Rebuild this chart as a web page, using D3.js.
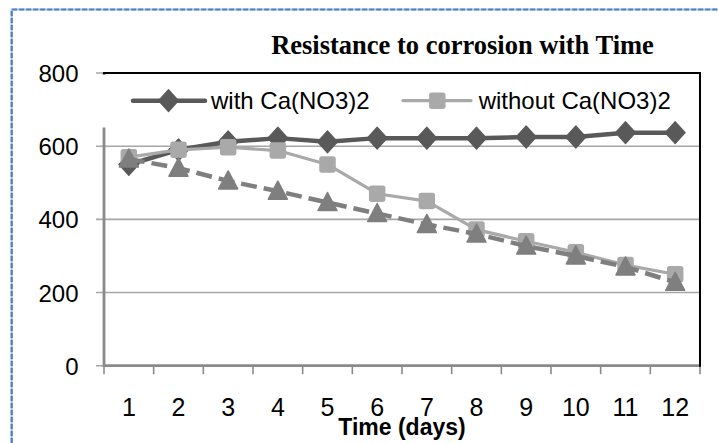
<!DOCTYPE html>
<html><head><meta charset="utf-8">
<script src="https://cdn.jsdelivr.net/npm/d3@7"></script>
<style>body{margin:0;background:#fff}svg{display:block}</style>
</head><body>
<svg id="chart" width="718" height="443"></svg>
<script>
// ---- data ----
const days = ["1","2","3","4","5","6","7","8","9","10","11","12"];
const withCa = [550, 590, 612, 622, 612, 622, 622, 622, 625, 625, 637, 637];
const withoutCa = [570, 590, 597, 588, 550, 470, 450, 372, 340, 310, 275, 250];
const thirdSeries = [565, 540, 505, 477, 446, 416, 386, 360, 327, 300, 270, 228];
const yTicks = [0, 200, 400, 600, 800];
const legendNames = ["with Ca(NO3)2", "without Ca(NO3)2"];
const titleText = "Resistance to corrosion with Time";
const xTitleText = "Time (days)";

// ---- layout ----
const W = 718, H = 443;
const plotL = 104, plotR = 700, plotT = 73, plotB = 365.7;
const sans = "'Liberation Sans', Arial, sans-serif";
const serif = "'Liberation Serif', 'Times New Roman', serif";
const cDark = "#595959", cLight = "#a9a9a9", cMid = "#7f7f7f";
const axisGray = "#8a8a8a", gridGray = "#a6a6a6";

const svg = d3.select("#chart");
const x = d3.scaleBand().domain(days).range([plotL, plotR]);
const y = d3.scaleLinear().domain([0, 800]).range([plotB, plotT]);

// outer dotted blue frame
svg.append("path").attr("d", `M11.7,${H} V9.5 H${W}`)
  .attr("fill", "none").attr("stroke", "#a9c2e6").attr("stroke-width", 2.2);
svg.append("path").attr("d", `M11.7,${H} V9.5 H${W}`)
  .attr("fill", "none").attr("stroke", "#4f81bd").attr("stroke-width", 2.2)
  .attr("stroke-dasharray", "5,2");

// gridlines (with outside ticks)
svg.append("g").selectAll("line").data(yTicks).join("line")
  .attr("x1", plotL - 8).attr("x2", plotR)
  .attr("y1", d => y(d)).attr("y2", d => y(d))
  .attr("stroke", gridGray).attr("stroke-width", 1.6);

// y axis line
svg.append("line").attr("x1", plotL).attr("x2", plotL)
  .attr("y1", plotT).attr("y2", plotB + 1)
  .attr("stroke", axisGray).attr("stroke-width", 2.8);

// x axis with ticks at band edges
const xAxis = d3.axisBottom(x).tickSize(0).tickPadding(0).tickFormat(d => d);
const gx = svg.append("g").attr("transform", `translate(0,${plotB})`).call(xAxis);
gx.select(".domain").remove();
gx.selectAll(".tick line").remove();
gx.selectAll(".tick text").attr("y", 50.8).attr("dy", null)
  .attr("font-family", sans).attr("font-size", 25).attr("fill", "#000");
const edges = days.map(d => x(d)).concat([x(days[days.length - 1]) + x.bandwidth()]);
svg.append("g").selectAll("line").data(edges).join("line")
  .attr("x1", d => d).attr("x2", d => d)
  .attr("y1", plotB).attr("y2", plotB + 8.5)
  .attr("stroke", axisGray).attr("stroke-width", 1.6);
svg.append("line").attr("x1", plotL - 1).attr("x2", plotR)
  .attr("y1", plotB).attr("y2", plotB)
  .attr("stroke", axisGray).attr("stroke-width", 2.8);

// y tick labels via axis
const yAxis = d3.axisLeft(y).tickValues(yTicks).tickSize(0).tickPadding(0);
const gy = svg.append("g").attr("transform", `translate(78.5,0)`).call(yAxis);
gy.select(".domain").remove();
gy.selectAll(".tick text").attr("x", 0).attr("dy", "0.36em")
  .attr("font-family", sans).attr("font-size", 24).attr("fill", "#000");

// legend background (hides top of y axis)
svg.append("rect").attr("x", 102).attr("y", 75).attr("width", plotR - 103).attr("height", 52.5)
  .attr("fill", "#fff");

// plot area border top & right (black)
svg.append("path").attr("d", `M${plotL - 1},${plotT} H${plotR} V${plotB + 1}`)
  .attr("fill", "none").attr("stroke", "#000").attr("stroke-width", 2);

// marker shapes
const diamondPath = "M0,-11 L10,0 L0,11 L-10,0 Z";
const trianglePath = "M0,-10 L9.5,8 L-9.5,8 Z";
const cx = d => x(d) + x.bandwidth() / 2;
const line = d3.line();

function series(vals, color, width, dash, marker) {
  const pts = vals.map((v, i) => [cx(days[i]), y(v)]);
  svg.append("path").attr("d", line(pts)).attr("fill", "none")
    .attr("stroke", color).attr("stroke-width", width)
    .attr("stroke-linejoin", "round")
    .attr("stroke-dasharray", dash || null);
  const g = svg.append("g");
  pts.forEach(p => marker(g, p[0], p[1]));
}
const drawDiamond = (g, px, py) => g.append("path").attr("d", diamondPath)
  .attr("transform", `translate(${px},${py})`).attr("fill", cDark)
  .attr("stroke", cDark).attr("stroke-width", 1.2).attr("stroke-linejoin", "round");
const drawSquare = (g, px, py) => g.append("rect")
  .attr("x", px - 7.5).attr("y", py - 7.5).attr("width", 15).attr("height", 15)
  .attr("rx", 2).attr("fill", cLight).attr("stroke", cLight).attr("stroke-width", 1.5);
const drawTriangle = (g, px, py) => g.append("path").attr("d", trianglePath)
  .attr("transform", `translate(${px},${py})`).attr("fill", cMid)
  .attr("stroke", cMid).attr("stroke-width", 1.5).attr("stroke-linejoin", "round");

series(withCa, cDark, 4.5, null, drawDiamond);
series(withoutCa, cLight, 3.2, null, drawSquare);
series(thirdSeries, cMid, 4.5, "16,7", drawTriangle);

// legend
const lg = svg.append("g");
lg.append("line").attr("x1", 133).attr("x2", 205).attr("y1", 100.7).attr("y2", 100.7)
  .attr("stroke", cDark).attr("stroke-width", 4.5).attr("stroke-linecap", "round");
drawDiamond(lg, 168.5, 100.7);
lg.append("text").attr("x", 211).attr("y", 108.5).text(legendNames[0])
  .attr("font-family", sans).attr("font-size", 24).attr("fill", "#000");
lg.append("line").attr("x1", 403).attr("x2", 471).attr("y1", 100.7).attr("y2", 100.7)
  .attr("stroke", cLight).attr("stroke-width", 3.2).attr("stroke-linecap", "round");
drawSquare(lg, 437.3, 100.7);
lg.append("text").attr("x", 478.7).attr("y", 108.5).text(legendNames[1])
  .attr("font-family", sans).attr("font-size", 24).attr("fill", "#000");

// title
svg.append("text").attr("x", 462.5).attr("y", 54).attr("text-anchor", "middle")
  .attr("font-family", serif).attr("font-weight", "bold").attr("font-size", 26.5)
  .attr("fill", "#000").text(titleText);

// x axis title with white background
const xt = svg.append("text").attr("x", 402).attr("y", 435).attr("text-anchor", "middle")
  .attr("font-family", sans).attr("font-weight", "bold").attr("font-size", 23)
  .attr("fill", "#000").text(xTitleText);
const bb = xt.node().getBBox();
svg.insert("rect", () => xt.node()).attr("x", bb.x - 2).attr("y", 418)
  .attr("width", bb.width + 4).attr("height", H - 418).attr("fill", "#fff");
</script>
</body></html>
